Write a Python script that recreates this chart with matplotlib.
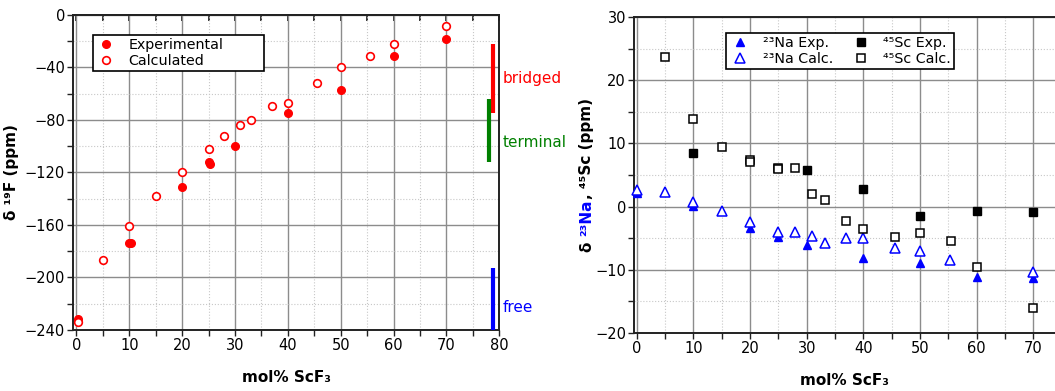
import matplotlib
matplotlib.use("Agg")
import matplotlib.pyplot as plt
from matplotlib.ticker import MultipleLocator

plt.rcParams['font.family'] = ['DejaVu Sans']

# ---------------- data: left panel (19F) ----------------
f_exp_x = [0.2, 10, 10.3, 20, 25, 25.2, 30, 40, 50, 60, 70]
f_exp_y = [-231.5, -174, -174, -131.5, -112, -114, -99.7, -74.8, -57.3, -31.4, -18.7]
f_calc_x = [0.3, 5, 10, 15, 20, 25, 28, 31, 33, 37, 40, 45.5, 50, 55.5, 60, 70]
f_calc_y = [-233.9, -186.9, -160.8, -137.7, -119.5, -102.4, -92.1, -84.2, -80.1,
            -69.8, -67.0, -51.7, -39.8, -31.2, -22.3, -8.4]
region_names = ["bridged", "terminal", "free"]
region_x = [78.8, 78.0, 78.8]
region_lo = [-75, -112.5, -240]
region_hi = [-22, -64.5, -193]
region_colors = ["#ff0000", "#008000", "#0000ff"]
region_label_y = [-48.2, -97.5, -223]

# ---------------- data: right panel (23Na, 45Sc) ----------------
na_exp_x = [0, 10, 20, 25, 30, 40, 50, 60, 70]
na_exp_y = [2.2, 0.1, -3.45, -4.9, -6.1, -8.1, -9.0, -11.2, -11.3]
na_calc_x = [0, 5, 10, 15, 20, 25, 28, 31, 33.3, 37, 40, 45.5, 50, 55.3, 70]
na_calc_y = [2.7, 2.25, 0.75, -0.65, -2.45, -4.1, -4.05, -4.65, -5.85, -4.95,
             -4.95, -6.6, -7.1, -8.5, -10.3]
sc_exp_x = [10, 30, 40, 50, 60, 70]
sc_exp_y = [8.5, 5.8, 2.8, -1.45, -0.65, -0.9]
sc_calc_x = [5, 10, 15, 20, 20, 25, 25, 28, 31, 33.3, 37, 40, 45.5, 50, 55.5, 60, 70]
sc_calc_y = [23.65, 13.85, 9.45, 7.3, 7.1, 6.1, 5.9, 6.15, 1.95, 1.05, -2.3, -3.5,
             -4.8, -4.2, -5.45, -9.55, -16.15]

W, H = 1055, 391
fig = plt.figure(figsize=(W / 100, H / 100), dpi=100)

def px_axes(l, t, r, b):
    return fig.add_axes([l / W, 1 - b / H, (r - l) / W, (b - t) / H])

TICK_FS = 10.5
LAB_FS = 11
LEG_FS = 10.3

def style_axes(ax):
    ax.grid(True, which='major', color='#8c8c8c', linewidth=1.0, linestyle='-')
    ax.grid(True, which='minor', color='#c8c8c8', linewidth=0.8, linestyle=':')
    ax.set_axisbelow(True)
    for s in ax.spines.values():
        s.set_linewidth(1.4)
        s.set_color('#222222')
    ax.tick_params(axis='both', which='both', direction='out', labelsize=TICK_FS,
                   colors='#222222', labelcolor='black', width=1.0, length=4, pad=2)

# ---------------- left panel ----------------
ax1 = px_axes(73.3, 14.7, 499.3, 330)
ax1.set_xlim(-0.6, 80)
ax1.set_ylim(-240, 0)
ax1.xaxis.set_major_locator(MultipleLocator(10))
ax1.xaxis.set_minor_locator(MultipleLocator(5))
ax1.yaxis.set_major_locator(MultipleLocator(40))
ax1.yaxis.set_minor_locator(MultipleLocator(20))
style_axes(ax1)

# inward ticks along the top edge
sec = ax1.secondary_xaxis('top')
sec.xaxis.set_major_locator(MultipleLocator(10))
sec.xaxis.set_minor_locator(MultipleLocator(5))
sec.tick_params(axis='x', which='both', direction='in', length=4, width=1.2,
                colors='#111111', labeltop=False)
sec.spines['top'].set_linewidth(1.4)
sec.spines['top'].set_color('#222222')

ax1.plot(f_exp_x, f_exp_y, 'o', color='#ff0000', markersize=5.5, linestyle='none',
         label='Experimental', zorder=4, clip_on=False)
ax1.plot(f_calc_x, f_calc_y, 'o', markerfacecolor='white', markeredgecolor='#ff0000',
         markeredgewidth=1.2, markersize=5.5, linestyle='none', label='Calculated',
         zorder=4, clip_on=False)

for name, xx, lo, hi, c, ly in zip(region_names, region_x, region_lo, region_hi,
                                   region_colors, region_label_y):
    ax1.vlines(xx, lo, hi, color=c, linewidth=3.0, zorder=5, clip_on=False)
    ax1.text(80.6, ly, name, color=c, fontsize=11, ha='left', va='center',
             clip_on=False)

leg1 = ax1.legend(loc='lower left', bbox_to_anchor=(0.046, 0.822, 0.402, 0.11),
                  mode='expand', borderaxespad=0,
                  fontsize=LEG_FS, frameon=True, fancybox=False, edgecolor='black',
                  handletextpad=0.8, borderpad=0.2, labelspacing=0.15,
                  handlelength=1.5, framealpha=1)
leg1.get_frame().set_linewidth(1.2)

ax1.set_xlabel('mol% ScF₃', fontsize=LAB_FS, fontweight='bold', labelpad=12)
ax1.set_ylabel('δ ¹⁹F (ppm)', fontsize=LAB_FS, fontweight='bold', labelpad=4)

# ---------------- right panel ----------------
ax2 = px_axes(634.3, 17.3, 1055, 332.7)
ax2.set_xlim(-0.42, 73.8)
ax2.set_ylim(-20, 30)
ax2.xaxis.set_major_locator(MultipleLocator(10))
ax2.xaxis.set_minor_locator(MultipleLocator(5))
ax2.yaxis.set_major_locator(MultipleLocator(10))
ax2.yaxis.set_minor_locator(MultipleLocator(5))
style_axes(ax2)
ax2.spines['right'].set_visible(False)

h1, = ax2.plot(na_exp_x, na_exp_y, '^', color='#0000ff', markersize=6, linestyle='none',
               label='²³Na Exp.', zorder=4, clip_on=False)
h2, = ax2.plot(na_calc_x, na_calc_y, '^', markerfacecolor='white', markeredgecolor='#0000ff',
               markeredgewidth=1.1, markersize=6.5, linestyle='none', label='²³Na Calc.',
               zorder=4, clip_on=False)
h3, = ax2.plot(sc_exp_x, sc_exp_y, 's', color='black', markersize=5.5, linestyle='none',
               label='⁴⁵Sc Exp.', zorder=4, clip_on=False)
h4, = ax2.plot(sc_calc_x, sc_calc_y, 's', markerfacecolor='white', markeredgecolor='black',
               markeredgewidth=1.1, markersize=5.5, linestyle='none', label='⁴⁵Sc Calc.',
               zorder=4, clip_on=False)

leg2 = ax2.legend(handles=[h1, h2, h3, h4], ncol=2, loc='lower left',
                  bbox_to_anchor=(0.217, 0.835, 0.543, 0.137), mode='expand',
                  borderaxespad=0, fontsize=LEG_FS,
                  frameon=True, fancybox=False, edgecolor='black', handletextpad=0.8,
                  borderpad=0.2, labelspacing=0.15, columnspacing=0.8,
                  handlelength=1.6, framealpha=1)
leg2.get_frame().set_linewidth(1.2)

ax2.set_xlabel('mol% ScF₃', fontsize=LAB_FS, fontweight='bold', labelpad=12)

# multi-coloured y label for right panel
fig.canvas.draw()
renderer = fig.canvas.get_renderer()
parts = [("δ ", 'black'), ("²³Na", '#0000ff'), (", ⁴⁵Sc (ppm)", 'black')]
label_x = 587 / W
texts = []
heights = []
for s, c in parts:
    t = fig.text(label_x, 0, s, color=c, fontsize=LAB_FS, fontweight='bold',
                 rotation=90, ha='center', va='bottom')
    bb = t.get_window_extent(renderer)
    texts.append(t)
    heights.append(bb.height)
total = sum(heights)
center_y = H - 175
y = center_y - total / 2
for t, hgt in zip(texts, heights):
    t.set_position((label_x, y / H))
    y += hgt

fig.savefig('out.png', dpi=100)
